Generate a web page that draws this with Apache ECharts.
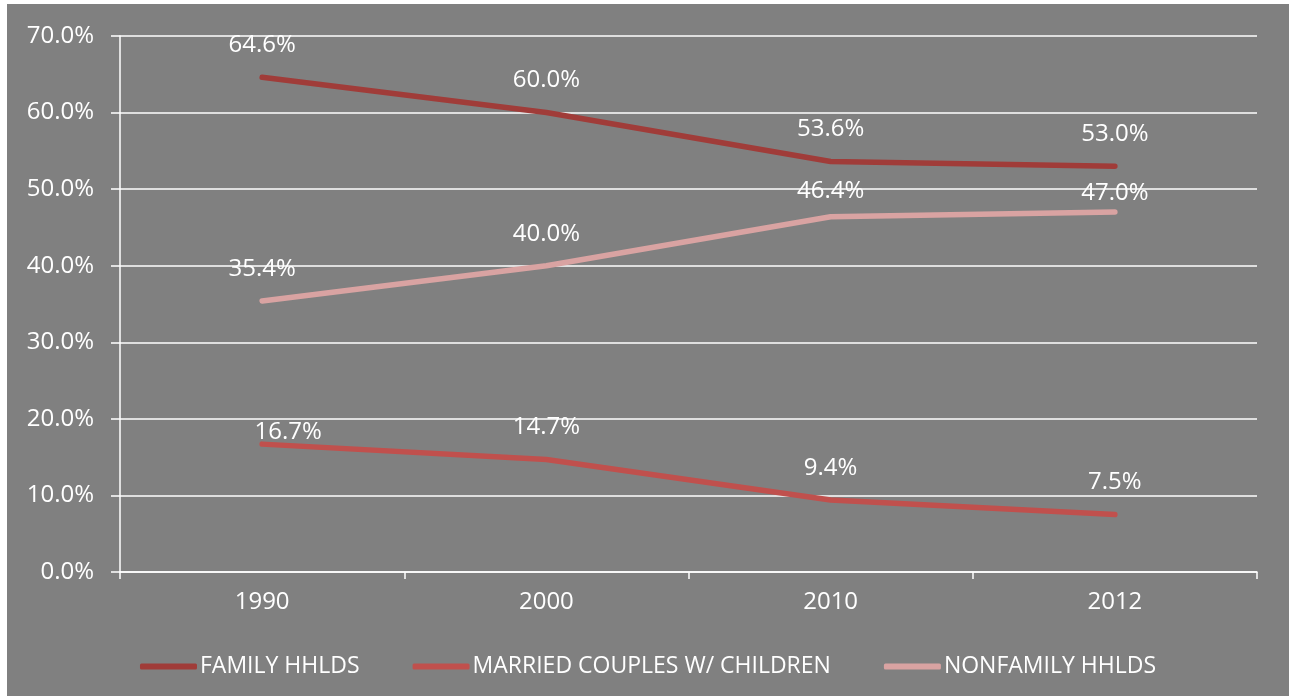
<!DOCTYPE html>
<html>
<head>
<meta charset="utf-8">
<script src="https://cdn.jsdelivr.net/npm/echarts@6/dist/echarts.min.js"></script>
<style>
  html, body { margin: 0; padding: 0; background: #ffffff; }
  #wrap { position: relative; width: 1289px; height: 696px; background: #ffffff; overflow: hidden; }
  #chart { position: absolute; left: 7px; top: 4px; width: 1282px; height: 692px; }
</style>
</head>
<body>
<div id="wrap"><div id="chart"></div></div>
<script>
// Household composition shares by census year (percent of all households)
const years = ['1990', '2000', '2010', '2012'];
const familyHhlds = [64.6, 60.0, 53.6, 53.0];
const marriedWithChildren = [16.7, 14.7, 9.4, 7.5];
const nonfamilyHhlds = [35.4, 40.0, 46.4, 47.0];

const seriesNames = ['FAMILY HHLDS', 'MARRIED COUPLES W/ CHILDREN', 'NONFAMILY HHLDS'];
const seriesColors = ['#a03c39', '#c0504d', '#d9a3a2'];

// label distance above each point (some labels sit closer to their line)
const labelGaps = [
  [20, 20, 20, 20],
  [0, 20, 20, 20],
  [20, 20, 14, 7]
];
// horizontal nudges for labels that are not centred over their point
const labelShifts = [
  [0, 0, 0, 0],
  [26, 0, 0, 0],
  [0, 0, 0, 0]
];

const FONT = '"Open Sans", "Noto Sans", sans-serif';

function buildData(values, gaps, shifts) {
  return values.map((v, i) => ({
    value: v,
    label: {
      distance: gaps[i],
      // left padding pushes the text right while keeping the box anchored on the point
      padding: shifts[i] > 0 ? [0, 0, 0, shifts[i] * 2] : 0
    }
  }));
}

const allValues = [familyHhlds, marriedWithChildren, nonfamilyHhlds];

const chart = echarts.init(document.getElementById('chart'), null, { renderer: 'canvas' });

chart.setOption({
  backgroundColor: '#808080',
  animation: false,
  grid: { left: 113, right: 32, top: 32, bottom: 124, containLabel: false },
  legend: {
    left: 'center',
    top: 646,
    icon: 'roundRect',
    itemWidth: 57,
    itemHeight: 6,
    itemGap: 53,
    textStyle: { color: '#ffffff', fontSize: 23, fontFamily: FONT, padding: [0, 0, 0, -2] },
    data: seriesNames
  },
  xAxis: {
    type: 'category',
    data: years,
    boundaryGap: true,
    axisLine: { show: true, lineStyle: { color: '#ffffff', width: 1.5 } },
    axisTick: { show: true, length: 7, lineStyle: { color: '#ffffff', width: 1.5 } },
    axisLabel: { color: '#ffffff', fontSize: 24, fontFamily: FONT, margin: 18 },
    splitLine: { show: false }
  },
  yAxis: {
    type: 'value',
    min: 0,
    max: 70,
    interval: 10,
    axisLine: { show: true, lineStyle: { color: '#ffffff', width: 1.5 } },
    axisTick: { show: true, length: 9, lineStyle: { color: '#ffffff', width: 1.5 } },
    axisLabel: {
      color: '#ffffff', fontSize: 24, fontFamily: FONT, margin: 26,
      formatter: v => v.toFixed(1) + '%'
    },
    splitLine: { show: true, lineStyle: { color: '#ffffff', width: 1.5 } }
  },
  series: seriesNames.map((name, k) => ({
    name: name,
    type: 'line',
    data: buildData(allValues[k], labelGaps[k], labelShifts[k]),
    showSymbol: true,
    symbol: 'circle',
    symbolSize: 0.1,
    color: seriesColors[k],
    lineStyle: { color: seriesColors[k], width: 5.5, cap: 'round', join: 'round' },
    label: {
      show: true,
      position: 'top',
      color: '#ffffff',
      fontSize: 24,
      fontFamily: FONT,
      formatter: p => p.value.toFixed(1) + '%'
    },
    labelLayout: { hideOverlap: false },
    z: 3 + k
  }))
});
</script>
</body>
</html>
